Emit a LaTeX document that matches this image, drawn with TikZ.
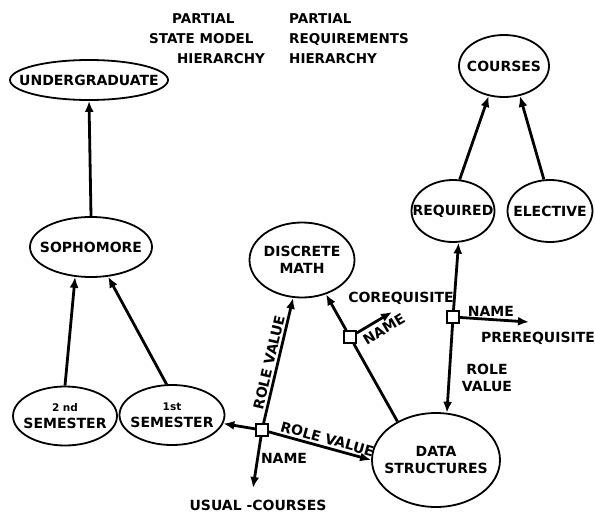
\documentclass[tikz,border=0pt]{standalone}
\usepackage{fontspec}
\setmainfont{DejaVu Sans}
\usepackage{tikz}
\usetikzlibrary{arrows.meta,shapes.geometric,positioning}
\newcommand{\linew}{2.8pt}
\newcommand{\rimw}{1.8pt}
\newcommand{\lettering}{\fontsize{14}{17}\selectfont\bfseries}
\newcommand{\tinylettering}{\fontsize{10.5}{12}\selectfont\bfseries}

\begin{document}
\begin{tikzpicture}[x=1pt,y=-1pt]
        \useasboundingbox (0,0) rectangle (595,517);
        \tikzset{
            state/.style = {ellipse, draw, line width=\rimw, inner xsep=-30pt, inner ysep=-10pt, align=center, font=\lettering},
            role/.style = {rectangle, draw, fill=white, line width=1.6pt, minimum size=12pt, inner sep=0pt},
            isa/.style = {line width=\linew, -{Latex[length=11pt,width=9pt]}},
            tag/.style = {font=\lettering, inner sep=2pt}
        }
        % titles
        \node[tag, align=left, anchor=west, font=\fontsize{13.5}{20}\selectfont\bfseries] (statetitle) at (147,39)
            {\hspace*{23pt}PARTIAL\\STATE MODEL\\\hspace*{28pt}HIERARCHY};
        \node[tag, align=left, anchor=west, font=\fontsize{13.5}{20}\selectfont\bfseries] (reqtitle) at (287,39)
            {PARTIAL\\REQUIREMENTS\\HIERARCHY};

        % state model hierarchy
        \node[state, minimum width=158pt, minimum height=40pt] (ug) at (89,80) {UNDERGRADUATE};
        \node[state, minimum width=122pt, minimum height=60pt] (soph) at (91,247) {SOPHOMORE};
        \node[state, minimum width=104pt, minimum height=59pt] (sem2) at (65,416) {{\tinylettering 2 nd}\\SEMESTER};
        \node[state, minimum width=105pt, minimum height=60pt] (sem1) at (172,415) {{\tinylettering 1st}\\SEMESTER};

        % requirements hierarchy
        \node[state, minimum width=90pt, minimum height=62pt] (courses) at (504,66) {COURSES};
        \node[state, minimum width=83pt, minimum height=62pt] (req) at (453,211) {REQUIRED};
        \node[state, minimum width=85pt, minimum height=62pt] (elect) at (550,211) {ELECTIVE};

        \node[state, minimum width=105pt, minimum height=75pt] (dm) at (302,260) {DISCRETE\\MATH};
        \node[state, minimum width=128pt, minimum height=94pt] (ds) at (436,460) {DATA\\STRUCTURES};

        % role nodes
        \node[role] (usual) at (262,430) {};
        \node[role] (coreq) at (350,337) {};
        \node[role] (prereq) at (453,317) {};
        \coordinate (usualend) at (253,488);
        \coordinate (coreqend) at (392,312);
        \coordinate (prereqend) at (529,322);

        \draw[isa] (soph.north) -- (ug.south);
        \draw[isa] (sem2.north) -- (soph.242);
        \draw[isa] (sem1.100) -- (soph.300);
        \draw[isa] (req.78) -- (courses.243);
        \draw[isa] (elect.101) -- (courses.298);

        \draw[isa] (usual) -- (sem1);
        \draw[isa] (usual) -- node[tag, sloped, above, pos=0.47] (rv1) {ROLE VALUE} (dm);
        \draw[isa] (usual) -- node[tag, sloped, above, pos=0.55] (rv2) {ROLE VALUE} (ds.west);
        \draw[isa] (usual) -- node[tag, right, pos=0.42] (nm1) {NAME} (usualend);
        \node[tag] (usualtext) at (258,505) {USUAL -COURSES};

        \draw[line width=\linew] (ds.135) -- (coreq);
        \draw[isa] (coreq) -- (dm.305);
        \draw[isa] (coreq) -- node[tag, sloped, below, pos=0.62, inner sep=4pt] (nm2) {NAME} (coreqend);
        \node[tag] (coreqtext) at (401,298) {COREQUISITE};

        \draw[isa] (prereq) -- (req.280);
        \draw[isa] (prereq) -- (ds.77);
        \node[tag, align=center] (rv3) at (487,378) {ROLE\\VALUE};
        \draw[isa] (prereq) -- node[tag, above, pos=0.45] (nm3) {NAME} (prereqend);
        \node[tag] (prereqtext) at (538,338) {PREREQUISITE};
    \end{tikzpicture}
\end{document}
